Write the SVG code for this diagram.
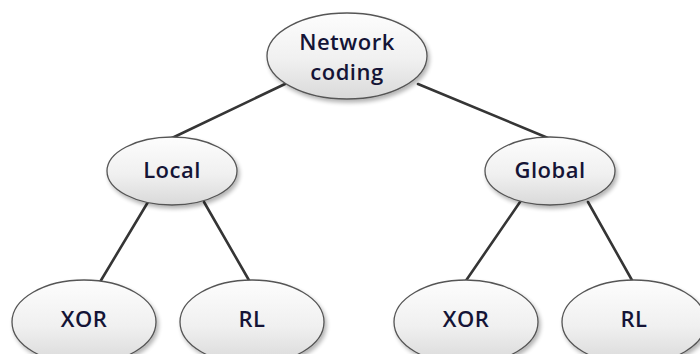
<svg xmlns="http://www.w3.org/2000/svg" width="700" height="354" viewBox="0 0 700 354">
  <defs>
    <linearGradient id="bubble" x1="0" y1="0" x2="0" y2="1">
      <stop offset="0" stop-color="#fdfdfd"/>
      <stop offset="0.55" stop-color="#f0f0f0"/>
      <stop offset="1" stop-color="#d9d9d9"/>
    </linearGradient>
    <filter id="shade" x="-20%" y="-20%" width="140%" height="150%">
      <feGaussianBlur in="SourceAlpha" stdDeviation="2"/>
      <feOffset dx="2" dy="3" result="b"/>
      <feComponentTransfer><feFuncA type="linear" slope="0.3"/></feComponentTransfer>
      <feMerge><feMergeNode/><feMergeNode in="SourceGraphic"/></feMerge>
    </filter>
  </defs>
  <style>
    .node ellipse { fill: url(#bubble); stroke: #555; stroke-width: 1.3; filter: url(#shade); }
    .node text { font-family: "Open Sans", "Liberation Sans", sans-serif; font-size: 22px; font-weight: 600; letter-spacing: 0.5px; fill: #141436; text-anchor: middle; }
    .edges line { stroke: #353535; stroke-width: 2.6; stroke-linecap: round; }
  </style>
  <rect width="700" height="354" fill="#ffffff"/>

  <g id="edges" class="edges">
    <line x1="285" y1="84" x2="172" y2="138"/>
    <line x1="418" y1="84" x2="548" y2="138"/>
    <line x1="148" y1="202" x2="100" y2="282"/>
    <line x1="204" y1="202" x2="250" y2="282"/>
    <line x1="520" y1="202" x2="465" y2="282"/>
    <line x1="588" y1="202" x2="633" y2="282"/>
  </g>

  <g id="network-coding" class="node">
    <ellipse cx="347" cy="56" rx="80" ry="43"/>
    <text x="347" y="50">Network</text>
    <text x="347" y="80">coding</text>
  </g>

  <g id="local" class="node">
    <ellipse cx="172" cy="171" rx="65" ry="34"/>
    <text x="172" y="178">Local</text>
  </g>

  <g id="global" class="node">
    <ellipse cx="550" cy="171" rx="65" ry="34"/>
    <text x="550" y="178">Global</text>
  </g>

  <g id="local-xor" class="node">
    <ellipse cx="84" cy="322" rx="72" ry="42"/>
    <text x="84" y="327">XOR</text>
  </g>

  <g id="local-rl" class="node">
    <ellipse cx="252" cy="322" rx="72" ry="42"/>
    <text x="252" y="327">RL</text>
  </g>

  <g id="global-xor" class="node">
    <ellipse cx="466" cy="322" rx="72" ry="42"/>
    <text x="466" y="327">XOR</text>
  </g>

  <g id="global-rl" class="node">
    <ellipse cx="634" cy="322" rx="72" ry="42"/>
    <text x="634" y="327">RL</text>
  </g>
</svg>
